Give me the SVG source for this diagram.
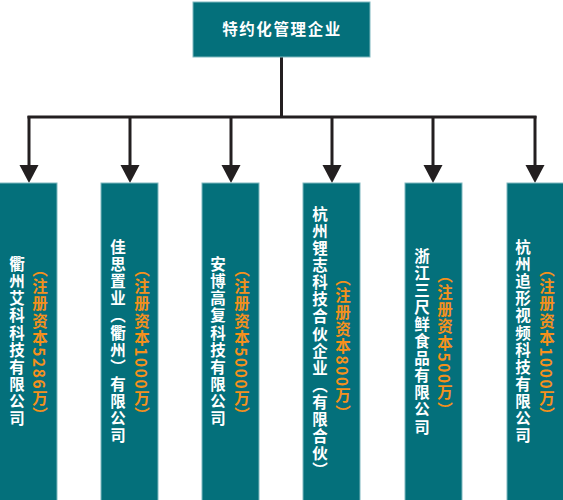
<svg xmlns="http://www.w3.org/2000/svg" width="563" height="500" viewBox="0 0 563 500">
<defs>
<style>
.box{fill:#04707b;stroke:#7fb8bf;stroke-width:1}
.t{font-family:"Noto Sans CJK SC","Noto Sans CJK JP",sans-serif;font-weight:bold;font-size:15.5px;letter-spacing:1.6px}
.v{writing-mode:vertical-rl;text-anchor:middle}
.w{fill:#ffffff}
.o{fill:#f5901c}
.ln{stroke:#231f20;stroke-width:3;fill:none}
.ah{fill:#231f20}
</style>
</defs>
<g id="connectors">
<path class="ln" d="M281.5,57 V117"/>
<path class="ln" d="M27.5,117 H536.5"/>
<line class="ln" x1="29" y1="116" x2="29" y2="167"/>
<path class="ah" d="M19.5,165 L38.5,165 L29,183 Z"/>
<line class="ln" x1="130" y1="116" x2="130" y2="167"/>
<path class="ah" d="M120.5,165 L139.5,165 L130,183 Z"/>
<line class="ln" x1="231" y1="116" x2="231" y2="167"/>
<path class="ah" d="M221.5,165 L240.5,165 L231,183 Z"/>
<line class="ln" x1="332" y1="116" x2="332" y2="167"/>
<path class="ah" d="M322.5,165 L341.5,165 L332,183 Z"/>
<line class="ln" x1="433" y1="116" x2="433" y2="167"/>
<path class="ah" d="M423.5,165 L442.5,165 L433,183 Z"/>
<line class="ln" x1="535" y1="116" x2="535" y2="167"/>
<path class="ah" d="M525.5,165 L544.5,165 L535,183 Z"/>
</g>
<g id="root">
<rect class="box" x="193" y="2" width="177" height="55"/>
<text class="t w" x="282" y="35" text-anchor="middle">特约化管理企业</text>
</g>
<g id="n1">
<rect class="box" x="-1" y="183" width="58" height="318"/>
<text class="t w v" x="17" y="342">衢州艾科科技有限公司</text>
<text class="t o v" x="40" y="343">（注册资本5286万）</text>
</g>
<g id="n2">
<rect class="box" x="101" y="183" width="57" height="318"/>
<text class="t w v" x="118" y="342">佳思置业（衢州）有限公司</text>
<text class="t o v" x="142" y="343">（注册资本1000万）</text>
</g>
<g id="n3">
<rect class="box" x="202" y="183" width="57" height="318"/>
<text class="t w v" x="218" y="342">安博高复科技有限公司</text>
<text class="t o v" x="242" y="343">（注册资本5000万）</text>
</g>
<g id="n4">
<rect class="box" x="303" y="183" width="57" height="318"/>
<text class="t w v" x="320" y="343">杭州锂志科技合伙企业（有限合伙）</text>
<text class="t o v" x="343" y="346">（注册资本800万）</text>
</g>
<g id="n5">
<rect class="box" x="405" y="183" width="57" height="318"/>
<text class="t w v" x="422" y="342">浙江三尺鲜食品有限公司</text>
<text class="t o v" x="445" y="343">（注册资本500万）</text>
</g>
<g id="n6">
<rect class="box" x="507" y="183" width="57" height="318"/>
<text class="t w v" x="523" y="342">杭州追形视频科技有限公司</text>
<text class="t o v" x="547" y="343">（注册资本1000万）</text>
</g>
</svg>
